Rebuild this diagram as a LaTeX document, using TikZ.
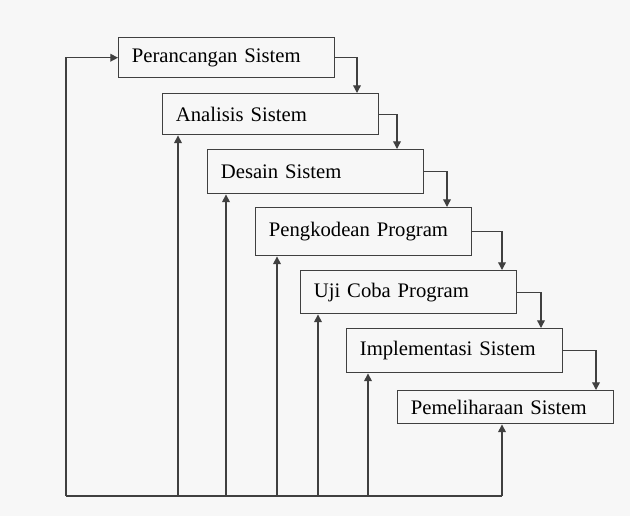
\documentclass[tikz,border=0pt]{standalone}
\usepackage{fontspec}
\setmainfont{Liberation Serif}
\usetikzlibrary{arrows.meta, calc}
\tikzset{tahap/.style = {draw=black!75, line width=1pt, anchor=north west, inner xsep=0.33cm, inner ysep=0pt,
    text width=4.74cm, align=left, font=\fontsize{14.7}{17}\selectfont, text=black}}
\tikzset{garis/.style = {draw=black!75, line width=1pt}}
\tikzset{panah/.style = {garis, -{Triangle[length=5.5pt, width=5.5pt]}}}

\begin{document}
\begin{tikzpicture}[x=0.025cm, y=-0.025cm]
\fill[black!3] (0,0) rectangle (630,516);
\useasboundingbox (0,0) rectangle (630,516);
\node[tahap, minimum height=1.0cm] (pc) at (118,37) {Perancangan Sistem};
\node[tahap, minimum height=1.025cm] (an) at (162,93) {Analisis Sistem};
\node[tahap, minimum height=1.1cm] (ds) at (207,149) {Desain Sistem};
\node[tahap, minimum height=1.2cm] (pk) at (255,207) {Pengkodean Program};
\node[tahap, minimum height=1.075cm] (uc) at (300,270) {Uji Coba Program};
\node[tahap, minimum height=1.1cm] (im) at (346,328) {Implementasi Sistem};
\node[tahap, minimum height=0.825cm] (pm) at (397,390) {Pemeliharaan Sistem};
\foreach \a/\b/\d in {pc/an/195, an/ds/190, ds/pk/192, pk/uc/202, uc/im/195, im/pm/199}
  \draw[panah] (\a.east) -| ($(\b.north west)+(\d,0)$);
\coordinate (sudut) at (66,496);
\draw[panah] (sudut) |- (pc.west);
\draw[garis] (sudut) -- (502,496);
\foreach \x/\n in {178/an, 226/ds, 277/pk, 318/uc, 368/im, 502/pm}
  \draw[panah] (\x,496) -- (\x,496 |- \n.south);
\end{tikzpicture}
\end{document}
